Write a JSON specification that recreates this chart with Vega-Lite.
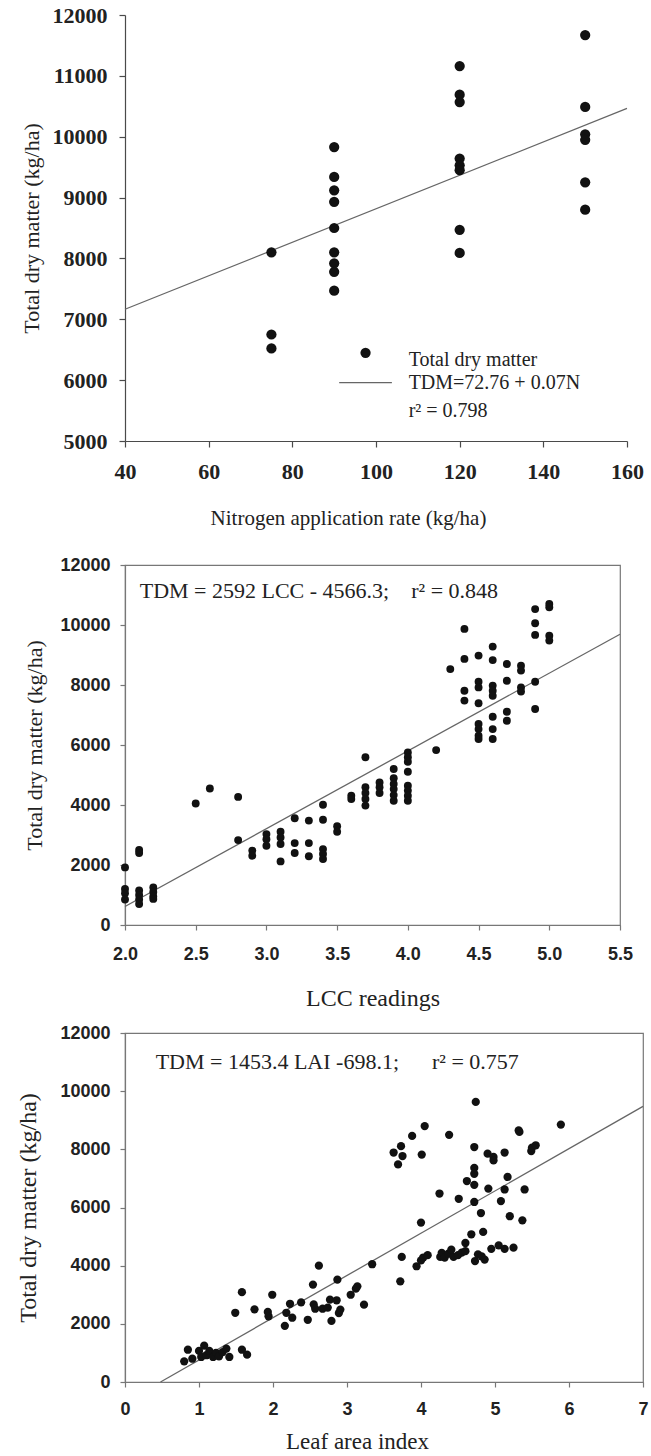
{
  "$schema": "https://vega.github.io/schema/vega-lite/v6.json",
  "background": "white",
  "padding": {"left": 15, "top": 4, "right": 4, "bottom": 0},
  "spacing": 12,
  "config": {
    "view": {"stroke": null},
    "axis": {"grid": false, "labelFlush": false, "labelOverlap": false, "labelBound": false, "titleAlign": "center", "titleBaseline": "middle"}
  },
  "datasets": {
    "p1": [
      {"x": 75, "y": 8100}, {"x": 75, "y": 6750}, {"x": 75, "y": 6520},
      {"x": 90, "y": 9830}, {"x": 90, "y": 9340}, {"x": 90, "y": 9120}, {"x": 90, "y": 8930}, {"x": 90, "y": 8500}, {"x": 90, "y": 8100}, {"x": 90, "y": 7920}, {"x": 90, "y": 7780}, {"x": 90, "y": 7470},
      {"x": 120, "y": 11160}, {"x": 120, "y": 10690}, {"x": 120, "y": 10570}, {"x": 120, "y": 9640}, {"x": 120, "y": 9530}, {"x": 120, "y": 9450}, {"x": 120, "y": 8470}, {"x": 120, "y": 8090},
      {"x": 150, "y": 11670}, {"x": 150, "y": 10490}, {"x": 150, "y": 10040}, {"x": 150, "y": 9950}, {"x": 150, "y": 9250}, {"x": 150, "y": 8800}
    ],
    "p1line": [{"x": 40, "y": 7165}, {"x": 160, "y": 10465}],
    "p1legdot": [{"x": 97.5, "y": 6450}],
    "p1legline": [{"x": 91.2, "y": 5960}, {"x": 103.8, "y": 5960}],
    "p1legtext": [
      {"x": 107.8, "y": 6330, "label": "Total dry matter"},
      {"x": 107.8, "y": 5960, "label": "TDM=72.76 + 0.07N"},
      {"x": 107.8, "y": 5490, "label": "r² = 0.798"}
    ],
    "p2": [
      {"x": 2.0, "y": 1920}, {"x": 2.0, "y": 1200}, {"x": 2.0, "y": 1060}, {"x": 2.0, "y": 850},
      {"x": 2.1, "y": 2500}, {"x": 2.1, "y": 2400}, {"x": 2.1, "y": 1150}, {"x": 2.1, "y": 1000}, {"x": 2.1, "y": 850}, {"x": 2.1, "y": 700},
      {"x": 2.2, "y": 1250}, {"x": 2.2, "y": 1100}, {"x": 2.2, "y": 950}, {"x": 2.2, "y": 870},
      {"x": 2.5, "y": 4050}, {"x": 2.6, "y": 4550},
      {"x": 2.8, "y": 4270}, {"x": 2.8, "y": 2830},
      {"x": 2.9, "y": 2480}, {"x": 2.9, "y": 2310},
      {"x": 3.0, "y": 3030}, {"x": 3.0, "y": 2860}, {"x": 3.0, "y": 2640},
      {"x": 3.1, "y": 3110}, {"x": 3.1, "y": 2920}, {"x": 3.1, "y": 2700}, {"x": 3.1, "y": 2120},
      {"x": 3.2, "y": 3560}, {"x": 3.2, "y": 2730}, {"x": 3.2, "y": 2400},
      {"x": 3.3, "y": 3480}, {"x": 3.3, "y": 2730}, {"x": 3.3, "y": 2290},
      {"x": 3.4, "y": 4010}, {"x": 3.4, "y": 3510}, {"x": 3.4, "y": 2530}, {"x": 3.4, "y": 2370}, {"x": 3.4, "y": 2200},
      {"x": 3.5, "y": 3290}, {"x": 3.5, "y": 3110},
      {"x": 3.6, "y": 4310}, {"x": 3.6, "y": 4200},
      {"x": 3.7, "y": 5590}, {"x": 3.7, "y": 4590}, {"x": 3.7, "y": 4400}, {"x": 3.7, "y": 4200}, {"x": 3.7, "y": 3980},
      {"x": 3.8, "y": 4750}, {"x": 3.8, "y": 4590}, {"x": 3.8, "y": 4400},
      {"x": 3.9, "y": 5200}, {"x": 3.9, "y": 4890}, {"x": 3.9, "y": 4700}, {"x": 3.9, "y": 4530}, {"x": 3.9, "y": 4330}, {"x": 3.9, "y": 4140},
      {"x": 4.0, "y": 5750}, {"x": 4.0, "y": 5590}, {"x": 4.0, "y": 5440}, {"x": 4.0, "y": 5110}, {"x": 4.0, "y": 4640}, {"x": 4.0, "y": 4480}, {"x": 4.0, "y": 4310}, {"x": 4.0, "y": 4140},
      {"x": 4.2, "y": 5830}, {"x": 4.3, "y": 8530},
      {"x": 4.4, "y": 9870}, {"x": 4.4, "y": 8870}, {"x": 4.4, "y": 7810}, {"x": 4.4, "y": 7480},
      {"x": 4.5, "y": 8980}, {"x": 4.5, "y": 8110}, {"x": 4.5, "y": 7920}, {"x": 4.5, "y": 7390}, {"x": 4.5, "y": 6700}, {"x": 4.5, "y": 6530}, {"x": 4.5, "y": 6310}, {"x": 4.5, "y": 6200},
      {"x": 4.6, "y": 9280}, {"x": 4.6, "y": 8830}, {"x": 4.6, "y": 7980}, {"x": 4.6, "y": 7810}, {"x": 4.6, "y": 7640}, {"x": 4.6, "y": 6940}, {"x": 4.6, "y": 6530}, {"x": 4.6, "y": 6200},
      {"x": 4.7, "y": 8700}, {"x": 4.7, "y": 8140}, {"x": 4.7, "y": 7110}, {"x": 4.7, "y": 6810},
      {"x": 4.8, "y": 8640}, {"x": 4.8, "y": 8480}, {"x": 4.8, "y": 7920}, {"x": 4.8, "y": 7780},
      {"x": 4.9, "y": 10530}, {"x": 4.9, "y": 10060}, {"x": 4.9, "y": 9670}, {"x": 4.9, "y": 8110}, {"x": 4.9, "y": 7200},
      {"x": 5.0, "y": 10700}, {"x": 5.0, "y": 10590}, {"x": 5.0, "y": 9640}, {"x": 5.0, "y": 9480}
    ],
    "p2line": [{"x": 2.0, "y": 618}, {"x": 5.5, "y": 9690}],
    "p2text": [{"x": 2.104, "y": 11144, "label": "TDM = 2592 LCC - 4566.3;\u00a0\u00a0\u00a0\u00a0r² = 0.848"}],
    "p3": [
      {"x": 0.80, "y": 710}, {"x": 0.85, "y": 1110}, {"x": 0.91, "y": 800}, {"x": 1.00, "y": 1070}, {"x": 1.03, "y": 860}, {"x": 1.07, "y": 1250}, {"x": 1.10, "y": 920}, {"x": 1.14, "y": 1070}, {"x": 1.19, "y": 860}, {"x": 1.23, "y": 1000}, {"x": 1.27, "y": 880}, {"x": 1.32, "y": 1030}, {"x": 1.37, "y": 1150}, {"x": 1.41, "y": 860}, {"x": 1.58, "y": 1110}, {"x": 1.65, "y": 940},
      {"x": 1.49, "y": 2380}, {"x": 1.58, "y": 3090}, {"x": 1.75, "y": 2500}, {"x": 1.93, "y": 2410}, {"x": 1.94, "y": 2260}, {"x": 1.99, "y": 3000}, {"x": 2.16, "y": 1930}, {"x": 2.18, "y": 2380}, {"x": 2.23, "y": 2690}, {"x": 2.26, "y": 2210}, {"x": 2.38, "y": 2740}, {"x": 2.47, "y": 2140}, {"x": 2.54, "y": 3350}, {"x": 2.55, "y": 2670}, {"x": 2.57, "y": 2520}, {"x": 2.62, "y": 4000}, {"x": 2.67, "y": 2520}, {"x": 2.74, "y": 2560}, {"x": 2.77, "y": 2830}, {"x": 2.79, "y": 2100}, {"x": 2.86, "y": 2810}, {"x": 2.87, "y": 3520}, {"x": 2.89, "y": 2370}, {"x": 2.91, "y": 2490}, {"x": 3.05, "y": 3000}, {"x": 3.12, "y": 3210}, {"x": 3.14, "y": 3290}, {"x": 3.23, "y": 2660}, {"x": 3.34, "y": 4050},
      {"x": 3.63, "y": 7890}, {"x": 3.69, "y": 7480}, {"x": 3.73, "y": 8110}, {"x": 3.75, "y": 7770}, {"x": 3.72, "y": 3460}, {"x": 3.74, "y": 4300}, {"x": 3.88, "y": 8460}, {"x": 4.01, "y": 7820}, {"x": 4.00, "y": 5480}, {"x": 4.05, "y": 8800}, {"x": 3.94, "y": 3980}, {"x": 4.00, "y": 4180}, {"x": 4.03, "y": 4280}, {"x": 4.09, "y": 4360}, {"x": 4.25, "y": 6480}, {"x": 4.38, "y": 8500}, {"x": 4.51, "y": 6300}, {"x": 4.62, "y": 6910}, {"x": 4.74, "y": 9630}, {"x": 4.72, "y": 8080}, {"x": 4.72, "y": 7360}, {"x": 4.72, "y": 7160}, {"x": 4.72, "y": 6780}, {"x": 4.72, "y": 6190}, {"x": 4.81, "y": 5810}, {"x": 4.84, "y": 5160}, {"x": 4.90, "y": 7850}, {"x": 4.98, "y": 7740}, {"x": 4.98, "y": 7620}, {"x": 4.91, "y": 6650}, {"x": 5.08, "y": 6220}, {"x": 5.13, "y": 7890}, {"x": 5.13, "y": 6620}, {"x": 5.17, "y": 7050}, {"x": 5.20, "y": 5700}, {"x": 5.32, "y": 8650}, {"x": 5.33, "y": 8600}, {"x": 5.37, "y": 5560}, {"x": 5.40, "y": 6620}, {"x": 5.49, "y": 7940}, {"x": 5.50, "y": 8060}, {"x": 5.55, "y": 8140}, {"x": 5.89, "y": 8850},
      {"x": 4.26, "y": 4300}, {"x": 4.28, "y": 4440}, {"x": 4.32, "y": 4280}, {"x": 4.37, "y": 4410}, {"x": 4.41, "y": 4550}, {"x": 4.44, "y": 4300}, {"x": 4.50, "y": 4360}, {"x": 4.55, "y": 4450}, {"x": 4.60, "y": 4500}, {"x": 4.60, "y": 4780}, {"x": 4.68, "y": 5080}, {"x": 4.73, "y": 4160}, {"x": 4.77, "y": 4390}, {"x": 4.82, "y": 4320}, {"x": 4.86, "y": 4210}, {"x": 4.95, "y": 4580}, {"x": 5.05, "y": 4700}, {"x": 5.13, "y": 4580}, {"x": 5.25, "y": 4620}
    ],
    "p3line": [{"x": 0.48, "y": 0}, {"x": 7, "y": 9476}],
    "p3text": [{"x": 0.414, "y": 11000, "label": "TDM = 1453.4 LAI -698.1;\u00a0\u00a0\u00a0\u00a0\u00a0\u00a0r² = 0.757"}]
  },
  "vconcat": [
    {
      "width": 502,
      "height": 426,
      "encoding": {
        "x": {"field": "x", "type": "quantitative", "scale": {"domain": [40, 160], "nice": false, "zero": false},
          "axis": {"values": [40, 60, 80, 100, 120, 140, 160], "title": ["Nitrogen application rate (kg/ha)", " "],
            "domainColor": "#4a4a4a", "tickColor": "#4a4a4a", "tickSize": 6, "domainWidth": 1.2, "tickWidth": 1.2,
            "labelFont": "Liberation Serif", "labelFontWeight": "bold", "labelFontSize": 22, "labelColor": "#222", "labelPadding": 14,
            "titleFont": "Liberation Serif", "titleFontWeight": "normal", "titleFontSize": 21, "titleColor": "#222", "titleLineHeight": 15, "titleX": 223, "titleY": 77}},
        "y": {"field": "y", "type": "quantitative", "scale": {"domain": [5000, 12000], "nice": false, "zero": false},
          "axis": {"values": [5000, 6000, 7000, 8000, 9000, 10000, 11000, 12000], "format": "d", "title": "Total dry matter (kg/ha)",
            "domainColor": "#4a4a4a", "tickColor": "#4a4a4a", "tickSize": 6, "domainWidth": 1.2, "tickWidth": 1.2,
            "labelFont": "Liberation Serif", "labelFontWeight": "bold", "labelFontSize": 22, "labelColor": "#222", "labelPadding": 12,
            "titleFont": "Liberation Serif", "titleFontWeight": "normal", "titleFontSize": 22, "titleColor": "#222", "titleX": -94}}
      },
      "layer": [
        {"data": {"name": "p1line"}, "mark": {"type": "line", "color": "#666", "strokeWidth": 1.2}},
        {"data": {"name": "p1"}, "mark": {"type": "circle", "color": "#111", "opacity": 1, "size": 105}},
        {"data": {"name": "p1legdot"}, "mark": {"type": "circle", "color": "#111", "opacity": 1, "size": 105}},
        {"data": {"name": "p1legline"}, "mark": {"type": "line", "color": "#666", "strokeWidth": 1.2}},
        {"data": {"name": "p1legtext"}, "mark": {"type": "text", "align": "left", "baseline": "middle", "font": "Liberation Serif", "fontSize": 20, "color": "#222"},
          "encoding": {"text": {"field": "label", "type": "nominal"}}}
      ]
    },
    {
      "width": 495,
      "height": 360,
      "view": {"stroke": "#777", "strokeWidth": 1.2},
      "encoding": {
        "x": {"field": "x", "type": "quantitative", "scale": {"domain": [2, 5.5], "nice": false, "zero": false},
          "axis": {"values": [2, 2.5, 3, 3.5, 4, 4.5, 5, 5.5], "format": ".1f", "title": "LCC readings",
            "domainColor": "#777", "tickColor": "#777", "tickSize": 5, "domainWidth": 1.2, "tickWidth": 1.2,
            "labelFont": "Liberation Sans", "labelFontWeight": "bold", "labelFontSize": 18, "labelColor": "#222", "labelPadding": 15,
            "titleFont": "Liberation Serif", "titleFontWeight": "normal", "titleFontSize": 24, "titleColor": "#222", "titleY": 73}},
        "y": {"field": "y", "type": "quantitative", "scale": {"domain": [0, 12000], "nice": false},
          "axis": {"values": [0, 2000, 4000, 6000, 8000, 10000, 12000], "format": "d", "title": "Total dry matter (kg/ha)",
            "domainColor": "#777", "tickColor": "#777", "tickSize": 5, "domainWidth": 1.2, "tickWidth": 1.2,
            "labelFont": "Liberation Sans", "labelFontWeight": "bold", "labelFontSize": 18, "labelColor": "#222", "labelPadding": 10,
            "titleFont": "Liberation Serif", "titleFontWeight": "normal", "titleFontSize": 22, "titleColor": "#222", "titleX": -91}}
      },
      "layer": [
        {"data": {"name": "p2line"}, "mark": {"type": "line", "color": "#666", "strokeWidth": 1.3}},
        {"data": {"name": "p2"}, "mark": {"type": "circle", "color": "#111", "opacity": 1, "size": 62}},
        {"data": {"name": "p2text"}, "mark": {"type": "text", "align": "left", "baseline": "middle", "font": "Liberation Serif", "fontSize": 22, "color": "#222"},
          "encoding": {"text": {"field": "label", "type": "nominal"}}}
      ]
    },
    {
      "width": 518,
      "height": 349,
      "view": {"stroke": "#777", "strokeWidth": 1.2},
      "encoding": {
        "x": {"field": "x", "type": "quantitative", "scale": {"domain": [0, 7], "nice": false},
          "axis": {"values": [0, 1, 2, 3, 4, 5, 6, 7], "title": "Leaf area index",
            "domainColor": "#777", "tickColor": "#777", "tickSize": 5, "domainWidth": 1.2, "tickWidth": 1.2,
            "labelFont": "Liberation Sans", "labelFontWeight": "bold", "labelFontSize": 18, "labelColor": "#222", "labelPadding": 13,
            "titleFont": "Liberation Serif", "titleFontWeight": "normal", "titleFontSize": 23, "titleColor": "#222", "titleX": 232, "titleY": 59}},
        "y": {"field": "y", "type": "quantitative", "scale": {"domain": [0, 12000], "nice": false},
          "axis": {"values": [0, 2000, 4000, 6000, 8000, 10000, 12000], "format": "d", "title": "Total dry matter (kg/ha)",
            "domainColor": "#777", "tickColor": "#777", "tickSize": 5, "domainWidth": 1.2, "tickWidth": 1.2,
            "labelFont": "Liberation Sans", "labelFontWeight": "bold", "labelFontSize": 18, "labelColor": "#222", "labelPadding": 10,
            "titleFont": "Liberation Serif", "titleFontWeight": "normal", "titleFontSize": 24, "titleColor": "#222", "titleX": -97}}
      },
      "layer": [
        {"data": {"name": "p3line"}, "mark": {"type": "line", "color": "#666", "strokeWidth": 1.3}},
        {"data": {"name": "p3"}, "mark": {"type": "circle", "color": "#111", "opacity": 1, "size": 68}},
        {"data": {"name": "p3text"}, "mark": {"type": "text", "align": "left", "baseline": "middle", "font": "Liberation Serif", "fontSize": 22, "color": "#222"},
          "encoding": {"text": {"field": "label", "type": "nominal"}}}
      ]
    }
  ]
}
